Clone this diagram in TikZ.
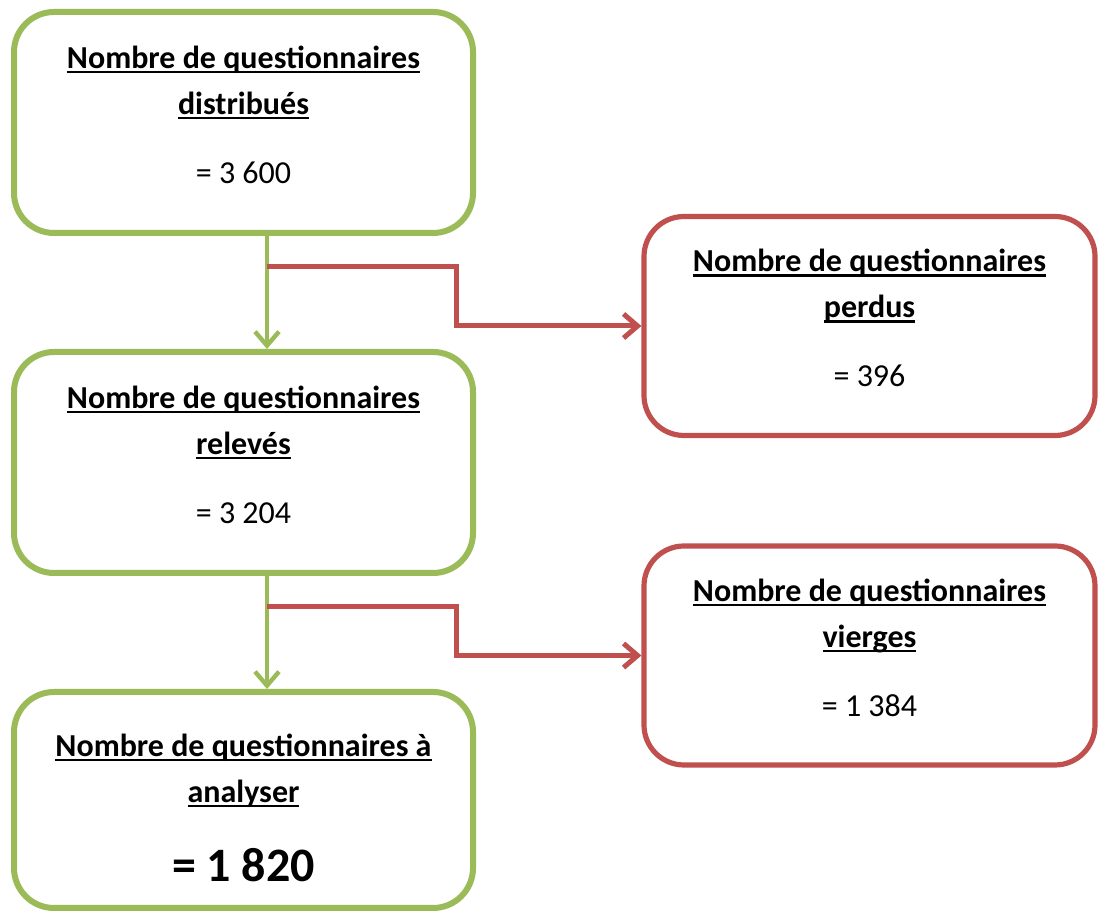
\documentclass[tikz,border=0pt]{standalone}
\usepackage{fontspec}
\setmainfont{Carlito}
\usepackage{tikz}
\usetikzlibrary{arrows.meta}
\definecolor{vert}{RGB}{155,187,89}
\definecolor{rouge}{RGB}{192,80,77}
\newcommand{\souligne}[1]{\setbox0\hbox{\bfseries #1}\rlap{\rule[-2.4pt]{\wd0}{1.2pt}}\box0}
\newcommand{\bas}{\rule[-8pt]{0pt}{1pt}}

\begin{document}
\begin{tikzpicture}[x=0.5pt, y=-0.5pt, >={Straight Barb[length=7pt, width=12pt]},
    vertbox/.style={draw=vert, line width=3pt, rounded corners=20pt, minimum width=229.5pt, minimum height=110.5pt, align=center, fill=white, font=\fontsize{16}{23}\selectfont},
    rougebox/.style={draw=rouge, line width=2.6pt, rounded corners=20pt, minimum width=225.5pt, minimum height=109.5pt, align=center, fill=white, font=\fontsize{16}{23}\selectfont},
    vertfleche/.style={->, draw=vert, line width=2.2pt},
    rougefleche/.style={->, draw=rouge, line width=2.5pt}]
    \useasboundingbox (0,0) rectangle (1099,913);

    % Boites vertes
    \node[vertbox] (distrib) at (243.5,122.5) {\souligne{Nombre de questionnaires}\\ \souligne{distribués}\\[11.5pt] = 3 600\bas};
    \node[vertbox] (releves) at (243.5,462.5) {\souligne{Nombre de questionnaires}\\ \souligne{relevés}\\[11.5pt] = 3 204\bas};
    \node[vertbox, minimum height=108pt] (analyse) at (243.5,800) {\rule{0pt}{19pt}\souligne{Nombre de questionnaires à}\\ \souligne{analyser}\\[16.5pt] {\fontsize{24}{28}\selectfont\bfseries = 1 820}};

    % Boites rouges
    \node[rougebox] (perdus) at (869.5,326) {\souligne{Nombre de questionnaires}\\ \souligne{perdus}\\[11.5pt] = 396\bas};
    \node[rougebox] (vierges) at (869.5,655.5) {\souligne{Nombre de questionnaires}\\ \souligne{vierges}\\[11.5pt] = 1 384\bas};

    % Embranchements
    \coordinate (j1) at (267,267);
    \coordinate (j2) at (267,607);

    % Fleches
    \draw[vertfleche] (distrib.south -| j1) -- (releves.north -| j1);
    \draw[vertfleche] (releves.south -| j2) -- (analyse.north -| j2);
    \draw[rougefleche] (j1) -- ++(189,0) |- (perdus.west);
    \draw[rougefleche] (j2) -- ++(189,0) |- (vierges.west);
\end{tikzpicture}
\end{document}
